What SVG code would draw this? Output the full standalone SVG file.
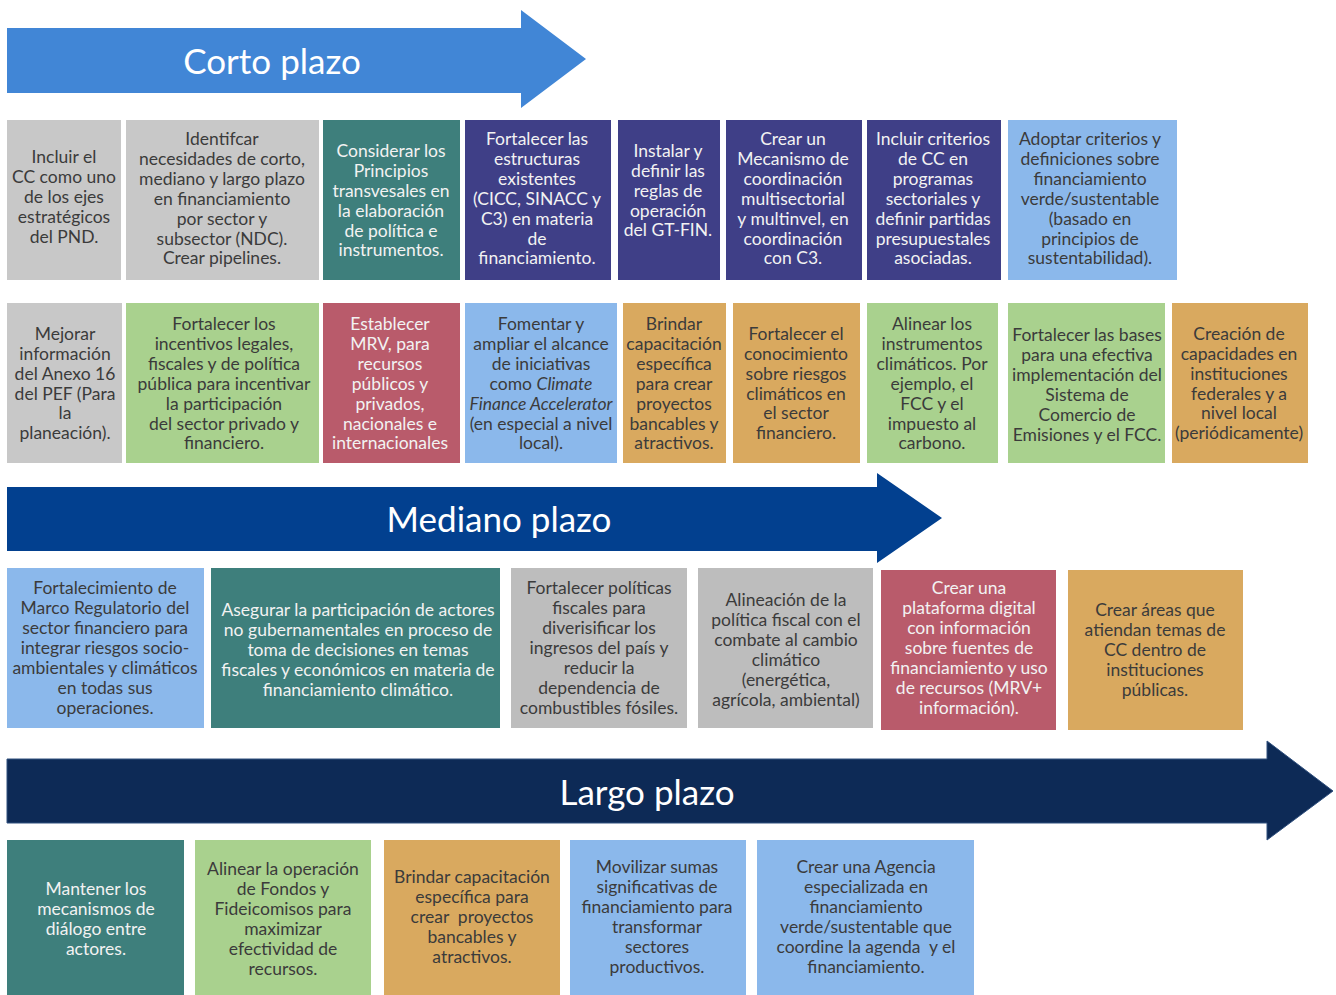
<svg xmlns="http://www.w3.org/2000/svg" width="1336" height="995" viewBox="0 0 1336 995">
<style>
text{font-family:Lato,"Open Sans","Liberation Sans",sans-serif;font-size:17.5px;text-anchor:middle}
.d{fill:#3b3b3b}.w{fill:#f2f2f2}
.ttl{font-size:35px;fill:#ffffff}
.gray{fill:#c8c8c8}.gray2{fill:#bdbdbd}.teal{fill:#3e7f7c}.ind{fill:#3f3f87}.lb{fill:#8bb8eb}
.grn{fill:#a9d18e}.red{fill:#b95b6b}.gold{fill:#d9a95f}
.i{font-style:italic}
</style>
<rect width="1336" height="995" fill="#ffffff"/>
<g id="arrow-corto">
<polygon points="7,28 521,28 521,10 586,59 521,108 521,93 7,93" fill="#4186d6"/>
<text class="ttl" x="272" y="74">Corto plazo</text>
</g>
<g id="arrow-mediano">
<polygon points="7,487 877,487 877,473 942,518 877,563 877,551 7,551" fill="#02408f"/>
<text class="ttl" x="499" y="532">Mediano plazo</text>
</g>
<g id="arrow-largo">
<polygon points="7,759 1267,759 1267,741 1333,791 1267,840 1267,823 7,823" fill="#0d2a56" stroke="#30507e" stroke-width="1"/>
<text class="ttl" x="647" y="805">Largo plazo</text>
</g>
<g id="connectors"></g>

<g id="c1"><rect class="gray" x="7" y="120" width="114" height="160"/>
<text class="d"><tspan x="64" y="163">Incluir el</tspan><tspan x="64" y="183">CC como uno</tspan><tspan x="64" y="203">de los ejes</tspan><tspan x="64" y="223">estratégicos</tspan><tspan x="64" y="243">del PND.</tspan></text></g>
<g id="c2"><rect class="gray" x="126" y="120" width="193" height="160"/>
<text class="d"><tspan x="222" y="145">Identifcar</tspan><tspan x="222" y="165">necesidades de corto,</tspan><tspan x="222" y="185">mediano y largo plazo</tspan><tspan x="222" y="205">en financiamiento</tspan><tspan x="222" y="225">por sector y</tspan><tspan x="222" y="245">subsector (NDC).</tspan><tspan x="222" y="264">Crear pipelines.</tspan></text></g>
<g id="c3"><rect class="teal" x="323" y="120" width="137" height="160"/>
<text class="w"><tspan x="391" y="157">Considerar los</tspan><tspan x="391" y="177">Principios</tspan><tspan x="391" y="197">transvesales en</tspan><tspan x="391" y="217">la elaboración</tspan><tspan x="391" y="237">de política e</tspan><tspan x="391" y="256">instrumentos.</tspan></text></g>
<g id="c4"><rect class="ind" x="465" y="120" width="146" height="160"/>
<text class="w"><tspan x="537" y="145">Fortalecer las</tspan><tspan x="537" y="165">estructuras</tspan><tspan x="537" y="185">existentes</tspan><tspan x="537" y="205">(CICC, SINACC y</tspan><tspan x="537" y="225">C3) en materia</tspan><tspan x="537" y="245">de</tspan><tspan x="537" y="264">financiamiento.</tspan></text></g>
<g id="c5"><rect class="ind" x="618" y="120" width="102" height="160"/>
<text class="w"><tspan x="668" y="157">Instalar y</tspan><tspan x="668" y="177">definir las</tspan><tspan x="668" y="197">reglas de</tspan><tspan x="668" y="217">operación</tspan><tspan x="668" y="236">del GT-FIN.</tspan></text></g>
<g id="c6"><rect class="ind" x="726" y="120" width="136" height="160"/>
<text class="w"><tspan x="793" y="145">Crear un</tspan><tspan x="793" y="165">Mecanismo de</tspan><tspan x="793" y="185">coordinación</tspan><tspan x="793" y="205">multisectorial</tspan><tspan x="793" y="225">y multinvel, en</tspan><tspan x="793" y="245">coordinación</tspan><tspan x="793" y="264">con C3.</tspan></text></g>
<g id="c7"><rect class="ind" x="867" y="120" width="134" height="160"/>
<text class="w"><tspan x="933" y="145">Incluir criterios</tspan><tspan x="933" y="165">de CC en</tspan><tspan x="933" y="185">programas</tspan><tspan x="933" y="205">sectoriales y</tspan><tspan x="933" y="225">definir partidas</tspan><tspan x="933" y="245">presupuestales</tspan><tspan x="933" y="264">asociadas.</tspan></text></g>
<g id="c8"><rect class="lb" x="1008" y="120" width="169" height="160"/>
<text class="d"><tspan x="1090" y="145">Adoptar criterios y</tspan><tspan x="1090" y="165">definiciones sobre</tspan><tspan x="1090" y="185">financiamiento</tspan><tspan x="1090" y="205">verde/sustentable</tspan><tspan x="1090" y="225">(basado en</tspan><tspan x="1090" y="245">principios de</tspan><tspan x="1090" y="264">sustentabilidad).</tspan></text></g>

<g id="c9"><rect class="gray" x="7" y="303" width="115" height="160"/>
<text class="d"><tspan x="65" y="340">Mejorar</tspan><tspan x="65" y="360">información</tspan><tspan x="65" y="380">del Anexo 16</tspan><tspan x="65" y="400">del PEF (Para</tspan><tspan x="65" y="419">la</tspan><tspan x="65" y="439">planeación).</tspan></text></g>
<g id="c10"><rect class="grn" x="126" y="303" width="193" height="160"/>
<text class="d"><tspan x="224" y="330">Fortalecer los</tspan><tspan x="224" y="350">incentivos legales,</tspan><tspan x="224" y="370">fiscales y de política</tspan><tspan x="224" y="390">pública para incentivar</tspan><tspan x="224" y="410">la participación</tspan><tspan x="224" y="430">del sector privado y</tspan><tspan x="224" y="449">financiero.</tspan></text></g>
<g id="c11"><rect class="red" x="323" y="303" width="137" height="160"/>
<text class="w"><tspan x="390" y="330">Establecer</tspan><tspan x="390" y="350">MRV, para</tspan><tspan x="390" y="370">recursos</tspan><tspan x="390" y="390">públicos y</tspan><tspan x="390" y="410">privados,</tspan><tspan x="390" y="430">nacionales e</tspan><tspan x="390" y="449">internacionales</tspan></text></g>
<g id="c12"><rect class="lb" x="465" y="303" width="152" height="160"/>
<text class="d"><tspan x="541" y="330">Fomentar y</tspan><tspan x="541" y="350">ampliar el alcance</tspan><tspan x="541" y="370">de iniciativas</tspan><tspan x="541" y="390">como <tspan class="i">Climate</tspan></tspan><tspan x="541" y="410" class="i">Finance Accelerator</tspan><tspan x="541" y="430">(en especial a nivel</tspan><tspan x="541" y="449">local).</tspan></text></g>
<g id="c13"><rect class="gold" x="623" y="303" width="103" height="160"/>
<text class="d"><tspan x="674" y="330">Brindar</tspan><tspan x="674" y="350">capacitación</tspan><tspan x="674" y="370">específica</tspan><tspan x="674" y="390">para crear</tspan><tspan x="674" y="410">proyectos</tspan><tspan x="674" y="430">bancables y</tspan><tspan x="674" y="449">atractivos.</tspan></text></g>
<g id="c14"><rect class="gold" x="733" y="303" width="127" height="160"/>
<text class="d"><tspan x="796" y="340">Fortalecer el</tspan><tspan x="796" y="360">conocimiento</tspan><tspan x="796" y="380">sobre riesgos</tspan><tspan x="796" y="400">climáticos en</tspan><tspan x="796" y="419">el sector</tspan><tspan x="796" y="439">financiero.</tspan></text></g>
<g id="c15"><rect class="grn" x="867" y="303" width="131" height="160"/>
<text class="d"><tspan x="932" y="330">Alinear los</tspan><tspan x="932" y="350">instrumentos</tspan><tspan x="932" y="370">climáticos. Por</tspan><tspan x="932" y="390">ejemplo, el</tspan><tspan x="932" y="410">FCC y el</tspan><tspan x="932" y="430">impuesto al</tspan><tspan x="932" y="449">carbono.</tspan></text></g>
<g id="c16"><rect class="grn" x="1008" y="303" width="157" height="160"/>
<text class="d"><tspan x="1087" y="341">Fortalecer las bases</tspan><tspan x="1087" y="361">para una efectiva</tspan><tspan x="1087" y="381">implementación del</tspan><tspan x="1087" y="401">Sistema de</tspan><tspan x="1087" y="421">Comercio de</tspan><tspan x="1087" y="441">Emisiones y el FCC.</tspan></text></g>
<g id="c17"><rect class="gold" x="1172" y="303" width="136" height="160"/>
<text class="d"><tspan x="1239" y="340">Creación de</tspan><tspan x="1239" y="360">capacidades en</tspan><tspan x="1239" y="380">instituciones</tspan><tspan x="1239" y="400">federales y a</tspan><tspan x="1239" y="419">nivel local</tspan><tspan x="1239" y="439">(periódicamente)</tspan></text></g>

<g id="m1"><rect class="lb" x="7" y="568" width="197" height="160"/>
<text class="d"><tspan x="105" y="594">Fortalecimiento de</tspan><tspan x="105" y="614">Marco Regulatorio del</tspan><tspan x="105" y="634">sector financiero para</tspan><tspan x="105" y="654">integrar riesgos socio-</tspan><tspan x="105" y="674">ambientales y climáticos</tspan><tspan x="105" y="694">en todas sus</tspan><tspan x="105" y="714">operaciones.</tspan></text></g>
<g id="m2"><rect class="teal" x="211" y="568" width="289" height="160"/>
<text class="w"><tspan x="358" y="616">Asegurar la participación de actores</tspan><tspan x="358" y="636">no gubernamentales en proceso de</tspan><tspan x="358" y="656">toma de decisiones en temas</tspan><tspan x="358" y="676">fiscales y económicos en materia de</tspan><tspan x="358" y="696">financiamiento climático.</tspan></text></g>
<g id="m3"><rect class="gray2" x="511" y="568" width="176" height="160"/>
<text class="d"><tspan x="599" y="594">Fortalecer políticas</tspan><tspan x="599" y="614">fiscales para</tspan><tspan x="599" y="634">diverisificar los</tspan><tspan x="599" y="654">ingresos del país y</tspan><tspan x="599" y="674">reducir la</tspan><tspan x="599" y="694">dependencia de</tspan><tspan x="599" y="714">combustibles fósiles.</tspan></text></g>
<g id="m4"><rect class="gray2" x="698" y="568" width="175" height="160"/>
<text class="d"><tspan x="786" y="606">Alineación de la</tspan><tspan x="786" y="626">política fiscal con el</tspan><tspan x="786" y="646">combate al cambio</tspan><tspan x="786" y="666">climático</tspan><tspan x="786" y="686">(energética,</tspan><tspan x="786" y="706">agrícola, ambiental)</tspan></text></g>
<g id="m5"><rect class="red" x="881" y="570" width="175" height="160"/>
<text class="w"><tspan x="969" y="594">Crear una</tspan><tspan x="969" y="614">plataforma digital</tspan><tspan x="969" y="634">con información</tspan><tspan x="969" y="654">sobre fuentes de</tspan><tspan x="969" y="674">financiamiento y uso</tspan><tspan x="969" y="694">de recursos (MRV+</tspan><tspan x="969" y="714">información).</tspan></text></g>
<g id="m6"><rect class="gold" x="1068" y="570" width="175" height="160"/>
<text class="d"><tspan x="1155" y="616">Crear áreas que</tspan><tspan x="1155" y="636">atiendan temas de</tspan><tspan x="1155" y="656">CC dentro de</tspan><tspan x="1155" y="676">instituciones</tspan><tspan x="1155" y="696">públicas.</tspan></text></g>

<g id="l1"><rect class="teal" x="7" y="840" width="177" height="160"/>
<text class="w"><tspan x="96" y="895">Mantener los</tspan><tspan x="96" y="915">mecanismos de</tspan><tspan x="96" y="935">diálogo entre</tspan><tspan x="96" y="955">actores.</tspan></text></g>
<g id="l2"><rect class="grn" x="195" y="840" width="176" height="160"/>
<text class="d"><tspan x="283" y="875">Alinear la operación</tspan><tspan x="283" y="895">de Fondos y</tspan><tspan x="283" y="915">Fideicomisos para</tspan><tspan x="283" y="935">maximizar</tspan><tspan x="283" y="955">efectividad de</tspan><tspan x="283" y="975">recursos.</tspan></text></g>
<g id="l3"><rect class="gold" x="384" y="840" width="176" height="160"/>
<text class="d"><tspan x="472" y="883">Brindar capacitación</tspan><tspan x="472" y="903">específica para</tspan><tspan x="472" y="923">crear&#160; proyectos</tspan><tspan x="472" y="943">bancables y</tspan><tspan x="472" y="963">atractivos.</tspan></text></g>
<g id="l4"><rect class="lb" x="570" y="840" width="176" height="160"/>
<text class="d"><tspan x="657" y="873">Movilizar sumas</tspan><tspan x="657" y="893">significativas de</tspan><tspan x="657" y="913">financiamiento para</tspan><tspan x="657" y="933">transformar</tspan><tspan x="657" y="953">sectores</tspan><tspan x="657" y="973">productivos.</tspan></text></g>
<g id="l5"><rect class="lb" x="757" y="840" width="217" height="160"/>
<text class="d"><tspan x="866" y="873">Crear una Agencia</tspan><tspan x="866" y="893">especializada en</tspan><tspan x="866" y="913">financiamiento</tspan><tspan x="866" y="933">verde/sustentable que</tspan><tspan x="866" y="953">coordine la agenda&#160; y el</tspan><tspan x="866" y="973">financiamiento.</tspan></text></g>
</svg>
